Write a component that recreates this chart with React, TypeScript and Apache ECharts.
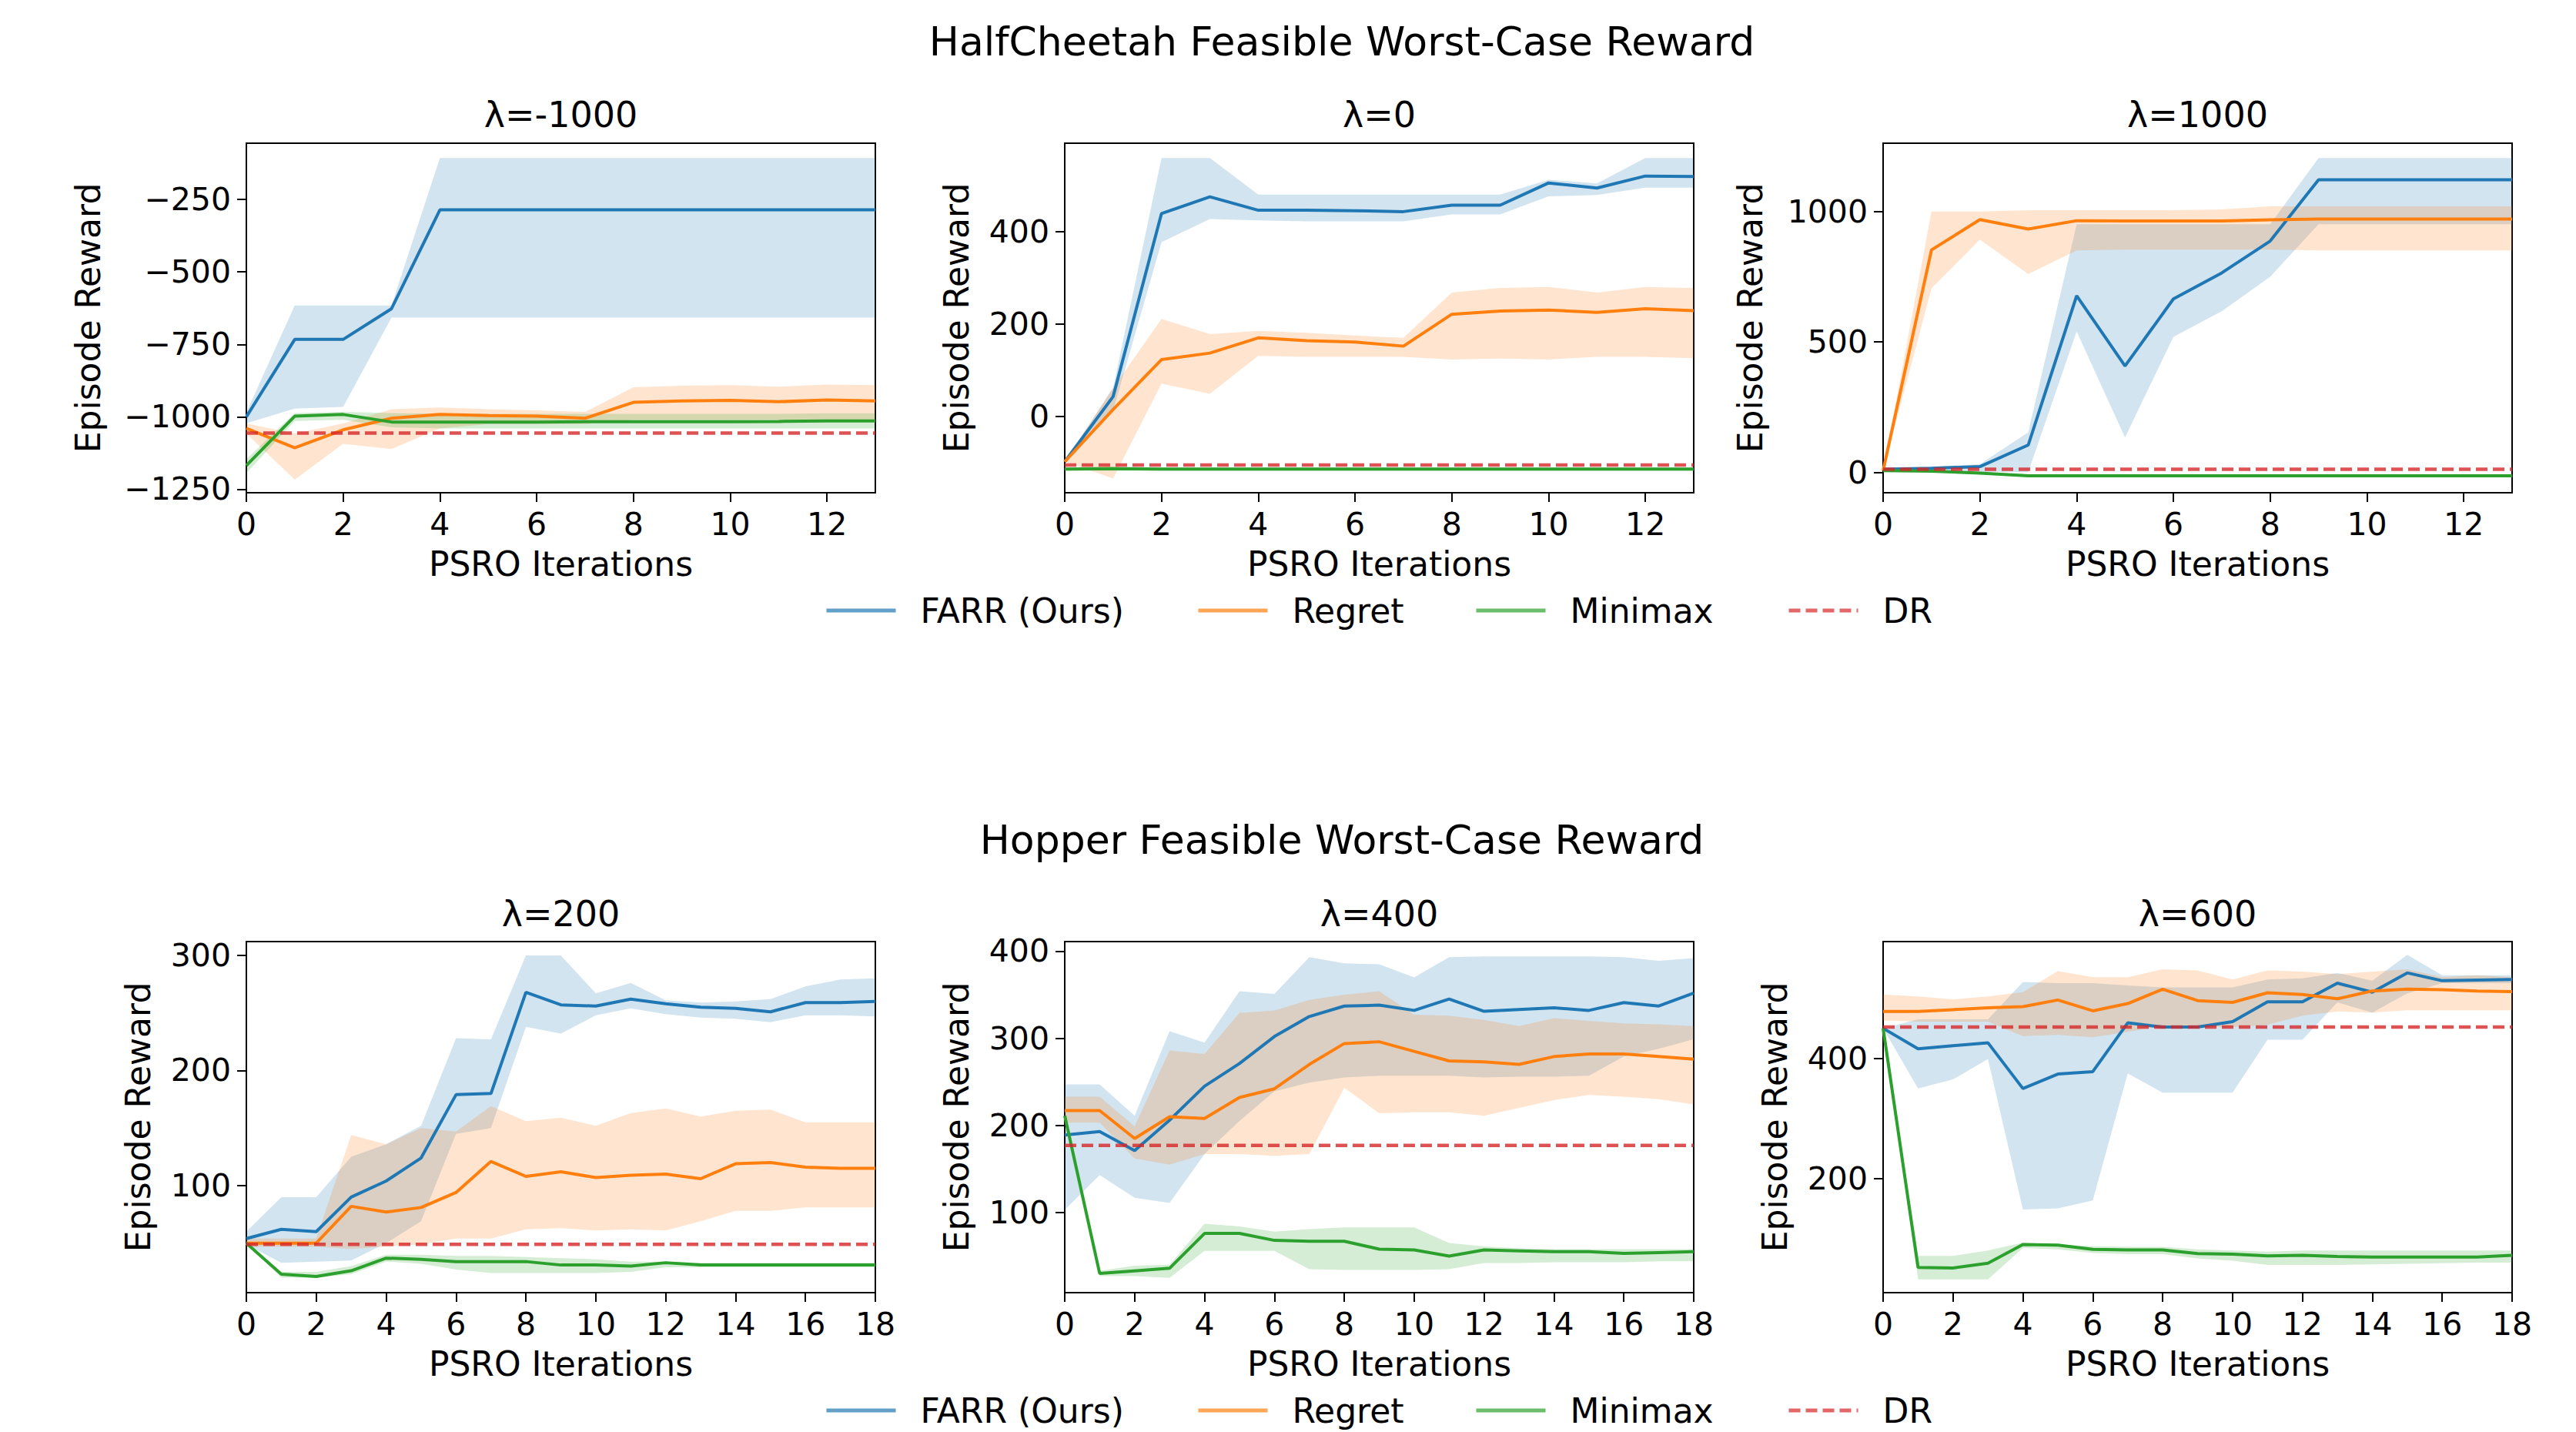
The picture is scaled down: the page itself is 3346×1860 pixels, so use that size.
import React, { useEffect, useRef } from "react";
import * as echarts from "echarts";

// ---------- iterations ----------
const X_HC = [0, 1, 2, 3, 4, 5, 6, 7, 8, 9, 10, 11, 12, 13];
const X_HOP = [0, 1, 2, 3, 4, 5, 6, 7, 8, 9, 10, 11, 12, 13, 14, 15, 16, 17, 18];

// ---------- tick labels ----------
const TICKS_X_HC = [0, 2, 4, 6, 8, 10, 12];
const TICKS_X_HOP = [0, 2, 4, 6, 8, 10, 12, 14, 16, 18];
const TICKS_Y_M1000 = [-1250, -1000, -750, -500, -250];
const TICKS_Y_0 = [0, 200, 400];
const TICKS_Y_1000 = [0, 500, 1000];
const TICKS_Y_200 = [100, 200, 300];
const TICKS_Y_400 = [100, 200, 300, 400];
const TICKS_Y_600 = [200, 400];

// ---------- HalfCheetah λ=-1000 ----------
const M1000_FARR = [-1000, -733, -733, -627, -286, -286, -286, -286, -286, -286, -286, -286, -286, -286];
const M1000_FARR_LO = [-1022, -972, -966, -658, -658, -658, -658, -658, -658, -658, -658, -658, -658, -658];
const M1000_FARR_HI = [-985, -616, -616, -616, -107, -107, -107, -107, -107, -107, -107, -107, -107, -107];
const M1000_REG = [-1040, -1107, -1045, -1005, -992, -996, -998, -1005, -950, -945, -943, -948, -942, -945];
const M1000_REG_LO = [-1058, -1217, -1093, -1111, -1040, -1025, -1025, -1025, -1010, -1010, -1010, -1010, -1010, -1010];
const M1000_REG_HI = [-1023, -1058, -1023, -974, -968, -974, -978, -983, -898, -893, -891, -896, -889, -891];
const M1000_MIN = [-1168, -998, -992, -1018, -1018, -1018, -1018, -1017, -1017, -1017, -1017, -1016, -1014, -1014];
const M1000_MIN_LO = [-1194, -1014, -1010, -1036, -1040, -1040, -1040, -1040, -1040, -1040, -1040, -1040, -1040, -1040];
const M1000_MIN_HI = [-1146, -987, -983, -987, -990, -990, -990, -990, -990, -990, -990, -990, -988, -988];
const M1000_DR = [-1056, -1056, -1056, -1056, -1056, -1056, -1056, -1056, -1056, -1056, -1056, -1056, -1056, -1056];

// ---------- HalfCheetah λ=0 ----------
const L0_FARR = [-98, 43, 439, 475, 446, 446, 445, 443, 457, 457, 505, 494, 520, 519];
const L0_FARR_LO = [-98, 13, 377, 427, 424, 422, 422, 422, 437, 437, 476, 479, 495, 495];
const L0_FARR_HI = [-98, 62, 559, 559, 480, 480, 480, 480, 480, 480, 512, 504, 559, 559];
const L0_REG = [-98, 15, 123, 137, 170, 164, 161, 152, 221, 228, 230, 225, 233, 229];
const L0_REG_LO = [-98, -134, 71, 49, 131, 129, 129, 129, 123, 125, 123, 129, 129, 126];
const L0_REG_HI = [-98, 62, 211, 178, 185, 181, 175, 170, 268, 278, 280, 268, 280, 278];
const L0_MIN = [-114, -113, -114, -114, -114, -114, -114, -114, -114, -114, -114, -114, -114, -114];
const L0_MIN_LO = [-118, -117, -118, -118, -118, -118, -118, -118, -118, -118, -118, -118, -118, -118];
const L0_MIN_HI = [-110, -109, -110, -110, -110, -110, -110, -110, -110, -110, -110, -110, -110, -110];
const L0_DR = [-105, -105, -105, -105, -105, -105, -105, -105, -105, -105, -105, -105, -105, -105];

// ---------- HalfCheetah λ=1000 ----------
const L1000_FARR = [12, 16, 22, 105, 677, 408, 665, 765, 887, 1122, 1122, 1122, 1122, 1122];
const L1000_FARR_LO = [12, 10, 2, 2, 540, 134, 520, 618, 750, 951, 951, 951, 951, 951];
const L1000_FARR_HI = [12, 22, 31, 154, 951, 951, 951, 951, 951, 1205, 1205, 1205, 1205, 1205];
const L1000_REG = [7, 853, 969, 933, 965, 964, 964, 964, 968, 971, 971, 971, 971, 971];
const L1000_REG_LO = [7, 706, 892, 760, 851, 854, 854, 854, 854, 851, 851, 851, 851, 851];
const L1000_REG_HI = [7, 1000, 1000, 1005, 1005, 1005, 1005, 1008, 1020, 1020, 1020, 1020, 1020, 1020];
const L1000_MIN = [7, 5, -3, -13, -13, -13, -13, -13, -13, -13, -13, -13, -13, -13];
const L1000_MIN_LO = [7, 2, -8, -18, -18, -18, -18, -18, -18, -18, -18, -18, -18, -18];
const L1000_MIN_HI = [7, 8, 2, -8, -8, -8, -8, -8, -8, -8, -8, -8, -8, -8];
const L1000_DR = [12, 12, 12, 12, 12, 12, 12, 12, 12, 12, 12, 12, 12, 12];

// ---------- Hopper λ=200 ----------
const L200_FARR = [54, 62, 60, 90, 104, 124, 179, 180, 268, 257, 256, 262, 258, 255, 254, 251, 259, 259, 260];
const L200_FARR_LO = [49, 33, 34, 35, 50, 69, 145, 150, 238, 232, 248, 254, 249, 246, 245, 242, 248, 248, 247];
const L200_FARR_HI = [60, 90, 90, 125, 136, 152, 228, 227, 300, 300, 267, 276, 261, 259, 260, 262, 273, 279, 280];
const L200_REG = [50, 50, 50, 82, 77, 81, 94, 121, 108, 112, 107, 109, 110, 106, 119, 120, 116, 115, 115];
const L200_REG_LO = [47, 47, 47, 45, 47, 49, 54, 54, 62, 63, 61, 62, 61, 69, 78, 78, 81, 81, 81];
const L200_REG_HI = [54, 54, 54, 144, 136, 150, 147, 169, 156, 159, 152, 163, 167, 160, 165, 166, 155, 155, 155];
const L200_MIN = [50, 23, 21, 26, 37, 36, 34, 34, 34, 31, 31, 30, 33, 31, 31, 31, 31, 31, 31];
const L200_MIN_LO = [50, 20, 20, 23, 34, 32, 27, 24, 24, 24, 24, 25, 29, 29, 29, 29, 29, 29, 29];
const L200_MIN_HI = [50, 25, 25, 30, 40, 40, 39, 39, 38, 37, 36, 34, 34, 33, 33, 33, 33, 33, 33];
const L200_DR = [49, 49, 49, 49, 49, 49, 49, 49, 49, 49, 49, 49, 49, 49, 49, 49, 49, 49, 49];

// ---------- Hopper λ=400 ----------
const L400_FARR = [189, 193, 171, 206, 245, 271, 302, 325, 337, 338, 332, 345, 331, 333, 335, 332, 341, 337, 352];
const L400_FARR_LO = [103, 143, 117, 111, 167, 205, 239, 249, 255, 257, 257, 257, 255, 256, 256, 257, 279, 288, 299];
const L400_FARR_HI = [247, 247, 211, 308, 295, 354, 351, 393, 386, 385, 370, 393, 394, 394, 394, 394, 393, 389, 392];
const L400_REG = [217, 217, 185, 210, 208, 232, 242, 270, 294, 296, 285, 274, 273, 270, 279, 282, 282, 279, 276];
const L400_REG_LO = [203, 203, 162, 155, 167, 167, 165, 167, 243, 214, 215, 215, 211, 220, 229, 235, 233, 230, 224];
const L400_REG_HI = [233, 233, 199, 286, 282, 329, 332, 344, 350, 354, 327, 326, 321, 314, 323, 320, 317, 316, 314];
const L400_MIN = [211, 30, 33, 36, 76, 76, 68, 67, 67, 58, 57, 50, 57, 56, 55, 55, 53, 54, 55];
const L400_MIN_LO = [211, 27, 27, 25, 56, 56, 56, 35, 34, 34, 34, 35, 42, 42, 43, 43, 43, 44, 44];
const L400_MIN_HI = [211, 33, 39, 40, 87, 84, 78, 81, 83, 83, 83, 65, 61, 59, 58, 58, 58, 58, 58];
const L400_DR = [177, 177, 177, 177, 177, 177, 177, 177, 177, 177, 177, 177, 177, 177, 177, 177, 177, 177, 177];

// ---------- Hopper λ=600 ----------
const L600_FARR = [450, 416, 421, 426, 350, 374, 378, 459, 452, 452, 461, 494, 494, 525, 510, 542, 529, 530, 531];
const L600_FARR_LO = [450, 350, 365, 399, 149, 151, 164, 375, 343, 343, 343, 431, 431, 493, 476, 508, 525, 525, 525];
const L600_FARR_HI = [450, 465, 465, 465, 527, 525, 525, 521, 518, 518, 518, 531, 533, 542, 529, 572, 538, 538, 538];
const L600_REG = [478, 478, 481, 484, 486, 497, 479, 491, 515, 496, 493, 509, 506, 499, 512, 515, 514, 512, 511];
const L600_REG_LO = [463, 461, 461, 461, 437, 439, 435, 444, 454, 452, 452, 456, 471, 478, 476, 480, 480, 480, 480];
const L600_REG_HI = [506, 503, 498, 503, 510, 545, 535, 535, 548, 546, 531, 546, 544, 540, 544, 548, 535, 538, 535];
const L600_MIN = [450, 53, 52, 60, 91, 90, 83, 82, 82, 76, 75, 72, 73, 71, 70, 70, 70, 70, 73];
const L600_MIN_LO = [450, 33, 33, 33, 85, 83, 77, 75, 75, 68, 64, 57, 57, 57, 58, 59, 60, 61, 61];
const L600_MIN_HI = [450, 72, 72, 81, 94, 91, 88, 87, 87, 83, 81, 79, 81, 81, 81, 81, 81, 81, 81];
const L600_DR = [452, 452, 452, 452, 452, 452, 452, 452, 452, 452, 452, 452, 452, 452, 452, 452, 452, 452, 452];

const NAMES = ["FARR (Ours)", "Regret", "Minimax", "DR"];
const COLORS = ["#1f77b4", "#ff7f0e", "#2ca02c", "#d62728"];
const BAND_FILLS = ["rgba(31,119,180,0.2)", "rgba(255,127,14,0.2)", "rgba(44,160,44,0.2)"];

const FONT = "DejaVu Sans";

const PANELS = [
  { title: "λ=-1000", xs: X_HC, xTicks: TICKS_X_HC, xMax: 13, yMin: -1262, yMax: -56, yTicks: TICKS_Y_M1000, yNameGap: 184,
    lines: [[M1000_FARR, M1000_FARR_LO, M1000_FARR_HI], [M1000_REG, M1000_REG_LO, M1000_REG_HI], [M1000_MIN, M1000_MIN_LO, M1000_MIN_HI]], dr: M1000_DR },
  { title: "λ=0", xs: X_HC, xTicks: TICKS_X_HC, xMax: 13, yMin: -165, yMax: 591, yTicks: TICKS_Y_0, yNameGap: 119,
    lines: [[L0_FARR, L0_FARR_LO, L0_FARR_HI], [L0_REG, L0_REG_LO, L0_REG_HI], [L0_MIN, L0_MIN_LO, L0_MIN_HI]], dr: L0_DR },
  { title: "λ=1000", xs: X_HC, xTicks: TICKS_X_HC, xMax: 13, yMin: -78, yMax: 1262, yTicks: TICKS_Y_1000, yNameGap: 151,
    lines: [[L1000_FARR, L1000_FARR_LO, L1000_FARR_HI], [L1000_REG, L1000_REG_LO, L1000_REG_HI], [L1000_MIN, L1000_MIN_LO, L1000_MIN_HI]], dr: L1000_DR },
  { title: "λ=200", xs: X_HOP, xTicks: TICKS_X_HOP, xMax: 18, yMin: 7, yMax: 312, yTicks: TICKS_Y_200, yNameGap: 119,
    lines: [[L200_FARR, L200_FARR_LO, L200_FARR_HI], [L200_REG, L200_REG_LO, L200_REG_HI], [L200_MIN, L200_MIN_LO, L200_MIN_HI]], dr: L200_DR },
  { title: "λ=400", xs: X_HOP, xTicks: TICKS_X_HOP, xMax: 18, yMin: 8, yMax: 411, yTicks: TICKS_Y_400, yNameGap: 119,
    lines: [[L400_FARR, L400_FARR_LO, L400_FARR_HI], [L400_REG, L400_REG_LO, L400_REG_HI], [L400_MIN, L400_MIN_LO, L400_MIN_HI]], dr: L400_DR },
  { title: "λ=600", xs: X_HOP, xTicks: TICKS_X_HOP, xMax: 18, yMin: 11, yMax: 594, yTicks: TICKS_Y_600, yNameGap: 119,
    lines: [[L600_FARR, L600_FARR_LO, L600_FARR_HI], [L600_REG, L600_REG_LO, L600_REG_HI], [L600_MIN, L600_MIN_LO, L600_MIN_HI]], dr: L600_DR },
];

// layout (pixels)
const GRID_LEFTS = [320, 1383, 2446];
const GRID_WIDTH = 817;
const GRID_TOPS = [186, 1223];
const GRID_HEIGHTS = [454, 456];
const TITLE_Y = [149, 1187];
const SUPTITLES = ["HalfCheetah Feasible Worst-Case Reward", "Hopper Feasible Worst-Case Reward"];
const SUPTITLE_Y = [54, 1091];
const SUPTITLE_X = 1743;
const LEGEND_Y = [793, 1832];
const LEGEND_X = [1071, 1554, 1915, 2321];

const minus = (v: number) => String(v).replace("-", "\u2212");

function buildOption() {
  const grid: any[] = [];
  const xAxis: any[] = [];
  const yAxis: any[] = [];
  const series: any[] = [];
  const title: any[] = [];
  const legend: any[] = [];

  SUPTITLES.forEach((t, r) => {
    title.push({
      text: t, left: SUPTITLE_X, top: SUPTITLE_Y[r] - 26, textAlign: "center", padding: 0,
      textStyle: { fontFamily: FONT, fontSize: 52, lineHeight: 52, fontWeight: "normal", color: "#000" },
    });
  });

  PANELS.forEach((p, i) => {
    const row = Math.floor(i / 3);
    const col = i % 3;
    const left = GRID_LEFTS[col];
    grid.push({
      left, top: GRID_TOPS[row], width: GRID_WIDTH, height: GRID_HEIGHTS[row],
      show: true, borderColor: "#000", borderWidth: 2, backgroundColor: "#fff", containLabel: false,
    });
    title.push({
      text: p.title, left: left + GRID_WIDTH / 2, top: TITLE_Y[row] - 23, textAlign: "center", padding: 0,
      textStyle: { fontFamily: FONT, fontSize: 46, lineHeight: 46, fontWeight: "normal", color: "#000" },
    });
    xAxis.push({
      type: "value", gridIndex: i, min: 0, max: p.xMax, interval: 2,
      name: "PSRO Iterations", nameLocation: "middle", nameGap: 70,
      nameTextStyle: { fontFamily: FONT, fontSize: 44, lineHeight: 44, color: "#000" },
      axisLine: { show: true, onZero: false, lineStyle: { color: "#000", width: 2 } },
      axisTick: { show: true, inside: false, length: 12, lineStyle: { color: "#000", width: 2 }, customValues: p.xTicks },
      axisLabel: { show: true, margin: 20, fontFamily: FONT, fontSize: 41, color: "#000", customValues: p.xTicks, showMinLabel: true, showMaxLabel: true },
      splitLine: { show: false },
    });
    yAxis.push({
      type: "value", gridIndex: i, min: p.yMin, max: p.yMax,
      name: "Episode Reward", nameLocation: "middle", nameGap: p.yNameGap, nameRotate: 90,
      nameTextStyle: { fontFamily: FONT, fontSize: 44, lineHeight: 44, color: "#000" },
      axisLine: { show: true, onZero: false, lineStyle: { color: "#000", width: 2 } },
      axisTick: { show: true, inside: false, length: 12, lineStyle: { color: "#000", width: 2 }, customValues: p.yTicks },
      axisLabel: { show: true, margin: 20, fontFamily: FONT, fontSize: 41, color: "#000", customValues: p.yTicks, formatter: (v: number) => minus(v) },
      splitLine: { show: false },
    });

    // bands first (under all lines)
    p.lines.forEach((trip, k) => {
      const lo = trip[1];
      const hi = trip[2];
      const xs = p.xs;
      series.push({
        type: "custom", name: NAMES[k] + " band", coordinateSystem: "cartesian2d",
        xAxisIndex: i, yAxisIndex: i, silent: true, clip: true, z: 1,
        data: xs.map((x, j) => [x, lo[j], hi[j]]),
        encode: { x: 0, y: [1, 2] },
        renderItem: (params: any, api: any) => {
          if (params.dataIndex !== 0) return null;
          const pts: number[][] = [];
          for (let j = 0; j < xs.length; j++) pts.push(api.coord([xs[j], hi[j]]));
          for (let j = xs.length - 1; j >= 0; j--) pts.push(api.coord([xs[j], lo[j]]));
          return { type: "polygon", shape: { points: pts }, style: { fill: BAND_FILLS[k], stroke: "none" } };
        },
      });
    });
    p.lines.forEach((trip, k) => {
      series.push({
        type: "line", name: NAMES[k], xAxisIndex: i, yAxisIndex: i, z: 3,
        symbol: "none", showSymbol: false, silent: true,
        data: p.xs.map((x, j) => [x, trip[0][j]]),
        lineStyle: { color: COLORS[k], width: 4 },
        itemStyle: { color: COLORS[k] },
      });
    });
    series.push({
      type: "line", name: NAMES[3], xAxisIndex: i, yAxisIndex: i, z: 4,
      symbol: "none", showSymbol: false, silent: true,
      data: p.xs.map((x, j) => [x, p.dr[j]]),
      lineStyle: { color: COLORS[3], width: 4.5, type: [15, 7], opacity: 0.8 },
      itemStyle: { color: COLORS[3] },
    });
  });

  [0, 1].forEach((r) => {
    NAMES.forEach((n, k) => {
      legend.push({
        data: [n], left: LEGEND_X[k], top: LEGEND_Y[r] - 22, padding: 0,
        itemWidth: 90, itemHeight: 14, selectedMode: false,
        itemStyle: { opacity: 0 },
        lineStyle: { opacity: 0.7, width: 5 },
        textStyle: { fontFamily: FONT, fontSize: 44, lineHeight: 44, color: "#000", padding: [0, 0, 0, 27] },
      });
    });
  });

  return { animation: false, backgroundColor: "#fff", title, grid, xAxis, yAxis, series, legend };
}

export default function App() {
  const ref = useRef<HTMLDivElement | null>(null);
  useEffect(() => {
    document.body.style.margin = "0";
    if (!ref.current) return;
    const chart = echarts.init(ref.current, undefined, { renderer: "svg" });
    chart.setOption(buildOption() as any);
    return () => chart.dispose();
  }, []);
  return <div ref={ref} style={{ width: 3346, height: 1860 }} />;
}
